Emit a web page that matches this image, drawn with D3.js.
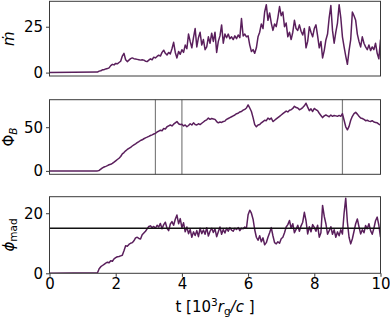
<!DOCTYPE html>
<html><head><meta charset="utf-8">
<script src="https://cdn.jsdelivr.net/npm/d3@7"></script>
<style>body{margin:0;background:#fff}svg{display:block}</style>
</head><body><div id="c"></div>
<script>
const tStart = 1.45, tStep = 0.05;   // sampling grid of the series below (t in 10^3 r_g/c)
const xTicks = [0, 2, 4, 6, 8, 10];
const mdotTicks = [0, 25];
const phiBTicks = [0, 50];
const phiMadTicks = [0, 20];
const vLines = [3.2, 4.0, 8.85];
const madLevel = 15;

const mdot = [
0.3,0.8,1.0,1.5,1.6,2.0,2.2,2.6,3.8,4.5,4.2,
5.0,4.8,5.5,6.2,9.0,10.5,7.0,6.0,6.8,7.6,8.0,7.6,7.4,7.2,7.0,6.8,7.0,6.8,6.2,6.0,
6.8,7.5,7.0,8.4,8.0,8.8,9.5,9.0,11.0,12.2,10.5,9.6,11.0,10.2,13.0,16.5,11.0,8.0,11.5,10.0,
12.5,11.0,15.0,13.0,21.0,17.0,13.5,19.0,24.0,14.0,19.0,22.0,15.0,18.0,12.5,14.0,19.5,16.0,21.5,17.0,
22.0,11.0,17.0,20.0,26.0,16.0,21.0,19.0,21.0,18.5,19.5,18.0,20.0,18.5,20.5,19.0,29.5,20.0,21.0,19.5,
20.0,15.0,11.5,12.5,10.5,13.5,19.5,22.0,26.5,24.0,33.0,37.0,28.5,32.5,27.0,23.0,26.5,25.0,30.0,36.0,
31.0,33.0,25.0,27.0,19.5,22.0,18.0,22.0,28.5,24.0,23.0,26.0,22.5,20.5,24.0,13.5,17.0,25.0,22.0,19.5,
24.0,26.0,20.0,13.5,17.0,8.0,12.0,17.8,21.0,30.0,36.5,23.0,16.0,22.0,27.0,37.0,30.0,19.5,14.0,9.0,
4.5,12.0,18.0,33.0,31.0,28.5,21.0,17.0,14.0,19.5,16.0,14.0,12.5,15.0,12.0,14.0,12.5,16.0,10.5,7.5,
18.0];

const phiB = [
0,0.5,2.0,3.5,4.5,5.2,6.0,7.0,7.5,8.6,10.0,
11.5,13.0,14.5,16.5,19.5,21.0,23.0,24.5,25.8,27.0,28.5,29.8,31.0,32.3,33.5,34.8,35.6,36.8,37.8,38.6,
39.5,40.5,41.3,42.2,43.0,44.5,45.5,46.5,46.0,48.5,48.0,50.5,51.5,52.5,51.5,53.5,55.0,56.5,54.0,53.0,
53.5,51.5,52.5,50.5,52.0,54.0,52.5,55.0,53.0,52.5,54.0,53.0,54.5,56.0,57.5,58.5,60.5,59.0,60.0,59.5,
59.0,56.5,55.0,56.0,55.5,56.5,57.0,59.0,60.0,61.0,62.0,63.0,64.0,65.5,66.0,67.5,68.0,69.5,70.5,72.0,
75.5,72.0,68.0,61.0,53.0,50.5,52.5,53.0,55.0,56.5,58.0,57.5,60.5,59.0,60.5,56.5,58.0,59.5,61.0,62.5,
64.0,65.5,67.0,68.5,67.5,69.5,70.0,71.5,74.0,72.5,72.0,70.0,71.0,72.5,74.5,77.5,73.0,69.0,71.0,68.0,
71.5,70.0,69.0,66.0,63.5,61.0,63.0,64.0,63.0,62.0,64.0,62.5,63.5,63.0,62.5,63.5,62.5,65.5,58.0,50.5,
47.0,51.0,58.0,62.5,65.5,67.0,65.0,62.5,60.5,60.0,59.0,57.5,58.0,57.0,56.5,57.5,56.0,55.5,55.0,53.5,
52.5];

const phiMad = [
0.2,1.5,2.2,2.6,3.0,3.4,3.7,3.5,4.2,4.0,4.8,
5.2,5.5,5.6,5.8,6.0,7.5,9.2,9.0,9.6,10.0,10.2,10.8,11.8,12.0,11.6,11.4,12.8,13.4,14.0,14.8,
15.6,15.8,15.2,15.6,15.0,16.0,15.4,16.6,14.8,16.2,17.0,15.0,14.2,16.4,17.2,16.0,18.0,19.4,16.5,18.2,
15.2,16.8,13.8,15.4,13.2,14.6,12.0,13.8,12.6,14.2,12.2,15.0,13.2,14.4,13.0,15.2,12.4,14.0,15.0,13.6,
14.8,12.2,13.8,15.4,13.0,14.6,13.4,15.0,14.0,15.2,14.4,14.0,15.0,14.6,15.2,14.2,15.0,14.8,15.4,15.0,
19.5,21.0,20.0,18.0,14.5,12.0,11.0,12.5,10.5,11.8,9.5,10.2,12.0,13.5,15.2,12.5,10.2,9.8,10.5,10.0,
11.5,12.0,13.5,15.4,16.2,17.6,15.0,16.5,13.5,14.6,16.0,14.0,15.8,17.0,20.3,17.5,13.1,15.5,13.8,16.2,
15.3,14.0,16.0,12.0,13.5,22.6,19.0,16.5,13.0,14.2,15.5,13.0,14.5,12.0,13.8,12.5,14.5,13.1,20.0,25.0,
17.0,12.0,9.8,11.5,14.0,16.5,18.1,15.5,13.1,14.5,13.5,15.9,14.8,16.5,14.2,13.0,15.0,17.5,18.7,16.0,
12.0];

function series(vals){ return [[0,0]].concat(vals.map((v,i)=>[tStart+i*tStep, v])); }

const W=390, H=319, xL=49.5, xR=380.5;
const font = "'DejaVu Sans', sans-serif";
const lineColor = "#5a1f5c", spine = "#3a3a3a";

const svg = d3.select("#c").append("svg").attr("width",W).attr("height",H)
  .style("font-family", font);

const x = d3.scaleLinear().domain([0,10]).range([xL,xR]);

const panels = [
  {top:1.3, bottom:76, domain:[-1.85,38.85], ticks:mdotTicks, data:series(mdot), label:"mdot"},
  {top:99.7, bottom:174.3, domain:[-3.9,81.5], ticks:phiBTicks, data:series(phiB), label:"phiB"},
  {top:196.7, bottom:273.3, domain:[0,25.5], ticks:phiMadTicks, data:series(phiMad), label:"phimad"}
];

panels.forEach((p,pi)=>{
  const y = d3.scaleLinear().domain(p.domain).range([p.bottom,p.top]);
  const g = svg.append("g");
  const cid = "clip"+pi;
  svg.append("clipPath").attr("id",cid).append("rect")
    .attr("x",xL).attr("y",p.top).attr("width",xR-xL).attr("height",p.bottom-p.top);

  if (pi===1) {
    g.selectAll("line.v").data(vLines).enter().append("line")
      .attr("x1",d=>x(d)).attr("x2",d=>x(d)).attr("y1",p.top).attr("y2",p.bottom)
      .attr("stroke","#7f7f7f").attr("stroke-width",1.2);
  }
  g.append("path").datum(p.data)
    .attr("clip-path",`url(#${cid})`)
    .attr("fill","none").attr("stroke",lineColor).attr("stroke-width",1.5)
    .attr("stroke-linejoin","round")
    .attr("d", d3.line().x(d=>x(d[0])).y(d=>y(d[1])));
  if (pi===2) {
    g.append("line").attr("x1",xL).attr("x2",xR).attr("y1",y(madLevel)).attr("y2",y(madLevel))
      .attr("stroke","#111").attr("stroke-width",1.5);
  }
  // y axis
  const ya = d3.axisLeft(y).tickValues(p.ticks).tickSize(3.5).tickPadding(3).tickFormat(d3.format("d"));
  const yg = svg.append("g").attr("transform",`translate(${xL},0)`).call(ya);
  yg.select(".domain").remove();
  yg.selectAll("line").attr("stroke",spine);
  yg.selectAll("text").attr("font-size",15).attr("fill","#000").style("font-family",font);
  if (pi===2) {
    const xa = d3.axisBottom(x).tickValues(xTicks).tickSize(3.5).tickPadding(2).tickFormat(d3.format("d"));
    const xg = svg.append("g").attr("transform",`translate(0,${p.bottom})`).call(xa);
    xg.select(".domain").remove();
    xg.selectAll("line").attr("stroke",spine);
    xg.selectAll("text").attr("font-size",15).attr("fill","#000").style("font-family",font);
  }
  // frame
  svg.append("rect").attr("x",xL).attr("y",p.top).attr("width",xR-xL).attr("height",p.bottom-p.top)
    .attr("fill","none").attr("stroke",spine).attr("stroke-width",1);

  // y label
  const cy = (p.top+p.bottom)/2;
  const t = svg.append("text").attr("transform",`translate(14,${cy}) rotate(-90)`)
    .attr("text-anchor","middle").attr("font-size",15).attr("fill","#000");
  if (p.label==="mdot") {
    t.append("tspan").attr("font-style","italic").text("ṁ");
  } else if (p.label==="phiB") {
    t.append("tspan").text("Φ");
    t.append("tspan").attr("font-style","italic").attr("font-size",10.5).attr("dy",3).text("B");
  } else {
    t.append("tspan").attr("font-style","italic").text("ϕ");
    t.append("tspan").attr("font-size",10.5).attr("dy",3).text("mad");
  }
});

// x label
const xl = svg.append("text").attr("x",(xL+xR)/2).attr("y",312).attr("text-anchor","middle")
  .attr("font-size",15).attr("fill","#000");
xl.append("tspan").text("t [10");
xl.append("tspan").attr("font-size",10.5).attr("dy",-6).text("3");
xl.append("tspan").attr("font-style","italic").attr("dy",6).text("r");
xl.append("tspan").attr("font-size",10.5).attr("dy",3).text("g");
xl.append("tspan").attr("font-style","italic").attr("dy",-3).text("/c");
xl.append("tspan").text(" ]");
</script></body></html>
